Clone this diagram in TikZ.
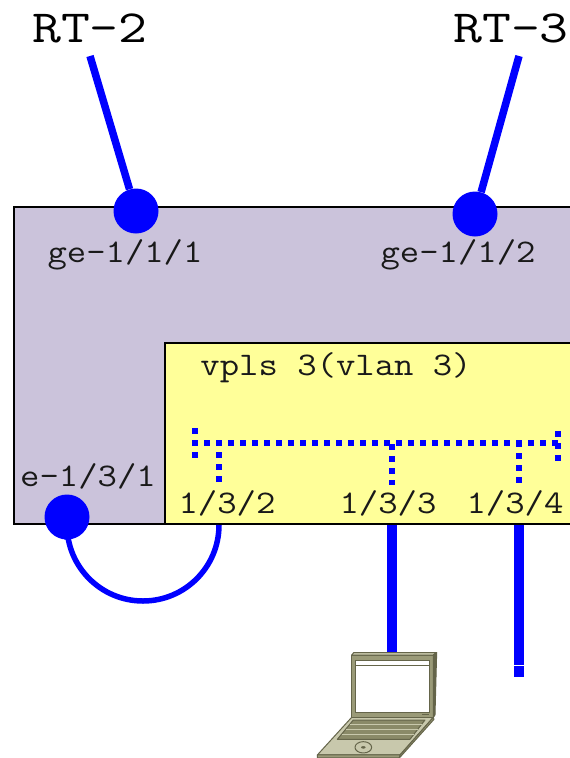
\documentclass[tikz,border=0pt]{standalone}
\usepackage{fontspec}
\definecolor{grp}{HTML}{CBC3DB}
\definecolor{vpl}{HTML}{FFFF99}
\definecolor{bl}{HTML}{0000FF}
\definecolor{lapA}{HTML}{9A9A78}
\definecolor{lapB}{HTML}{C8C8AC}
\definecolor{lapD}{HTML}{65654A}
\definecolor{lapK}{HTML}{8A8A68}
\tikzset{
  port/.style={circle,fill=bl,inner sep=0pt,minimum size=45pt},
  small/.style={inner sep=0pt,anchor=center,text=black!90,font=\ttfamily\fontsize{33}{33}\selectfont,xscale=1.14},
  big/.style={inner sep=0pt,anchor=center,text=black,font=\ttfamily\fontsize{46}{46}\selectfont,xscale=1.22},
  wire/.style={draw=bl,line width=7.5pt},
  thick wire/.style={draw=bl,line width=9.5pt},
  dots/.style={draw=bl,line width=6pt,dash pattern=on 6pt off 6pt},
  lap/.style={draw=lapD,line width=1pt,line join=round}
}
\begin{document}
\begin{tikzpicture}[x=1pt,y=-1pt]
\useasboundingbox (0,0) rectangle (570,758);
\clip (0,0) rectangle (570,758);
\fill[white] (0,0) rectangle (570,758);
\node[big] (rt2) at (90,28) {RT-2};
\node[big] (rt3) at (511,28) {RT-3};
\draw[fill=grp,line width=1.5pt] (14,207) rectangle (580,524);
\draw[fill=vpl,line width=1.5pt] (165,343) rectangle (580,524);
\node[port] (p1) at (136,211) {};
\node[port] (p2) at (475,214) {};
\node[port] (p3) at (67,517) {};
\coordinate (rt2e) at (90,56);
\coordinate (rt3e) at (519,56);
\draw[wire] (rt2e) -- (p1);
\draw[wire] (rt3e) -- (p2);
\node[small] (l1) at (125,255) {ge-1/1/1};
\node[small] (l2) at (458,255) {ge-1/1/2};
\node[small] (l3) at (88,476) {e-1/3/1};
\node[small] (v) at (336,368) {vpls 3(vlan 3)};
\node[small] (a) at (227,503) {1/3/2};
\node[small] (b) at (388,503) {1/3/3};
\node[small] (c) at (515,503) {1/3/4};
% bridge
\coordinate (bl) at (192,443);
\coordinate (br) at (562,443);
\draw[dots] (bl) -- (br);
\coordinate (bl1) at (195,428);
\coordinate (bl2) at (195,458);
\coordinate (br1) at (558,431);
\coordinate (br2) at (558,461);
\draw[dots] (bl1) -- (bl2);
\draw[dots] (br1) -- (br2);
\coordinate (d1) at (219,440);
\coordinate (d1e) at (219,482);
\coordinate (d2) at (392,444);
\coordinate (d2e) at (392,485);
\coordinate (d3) at (519,441);
\coordinate (d3e) at (519,485);
\draw[dots] (d1) -- (d1e);
\draw[dots] (d2) -- (d2e);
\draw[dots] (d3) -- (d3e);
% wires
\coordinate (pa) at (219,525);
\coordinate (pb) at (392,525);
\coordinate (pc) at (519,525);
\coordinate (lt) at (392,653);
\coordinate (pce) at (519,664.5);
\coordinate (stubs) at (519,666);
\coordinate (stube) at (519,677);
\draw[draw=bl,line width=5.5pt] (pa) arc[start angle=0,end angle=180,radius=76] -- (p3);
\draw[thick wire] (pb) -- (lt);
\draw[thick wire] (pc) -- (pce);
\draw[thick wire] (stubs) -- (stube);
% laptop
\begin{scope}[shift={(300,640)},x=0.3333pt,y=-0.3333pt]
\draw[lap,fill=lapB] (155,232) -- (400,232) -- (300,345) -- (52,345) -- cycle;
\draw[lap,fill=lapA] (52,345) -- (300,345) -- (298,354) -- (52,354) -- cycle;
\draw[lap,fill=lapA] (400,232) -- (402,238) -- (298,354) -- (300,345) -- cycle;
\draw[lap,fill=lapK] (160,240) -- (375,240) -- (330,298) -- (112,298) -- cycle;
\draw[lapB,line width=1pt] (150,252) -- (366,252) (138,268) -- (353,268) (125,283) -- (342,283);
\draw[lap,fill=lapB] (190,322) ellipse[x radius=25,y radius=17];
\draw[lapD,fill=lapD] (190,322) ellipse[x radius=6,y radius=3];
\draw[lap,fill=lapA] (155,45) -- (400,45) -- (400,232) -- (155,232) -- cycle;
\draw[lap,fill=lapB] (155,45) -- (161,38) -- (410,38) -- (400,45) -- cycle;
\draw[lap,fill=lapD] (400,45) -- (410,38) -- (405,225) -- (400,232) -- cycle;
\draw[lapD,line width=1pt,fill=white] (168,62) rectangle (388,218);
\draw[lapD,line width=1pt] (168,75) -- (388,75);
\fill[lapD] (366,221) rectangle (388,226);
\end{scope}
\end{tikzpicture}
\end{document}
